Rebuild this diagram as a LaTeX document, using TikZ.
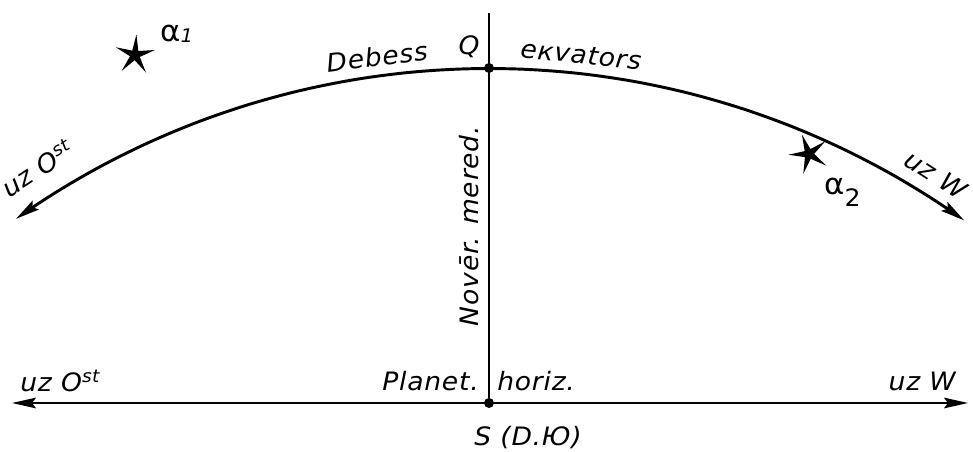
\documentclass[tikz,border=0pt]{standalone}
\usepackage{fontspec}
\setmainfont{DejaVu Sans}[ItalicFont={DejaVu Sans Oblique},FakeStretch=1.05,LetterSpace=3]
\usetikzlibrary{arrows.meta,shapes.geometric}
\tikzset{
  lbl/.style={font=\fontsize{19}{21}\selectfont\itshape, inner sep=0pt},
  alab/.style={inner sep=0pt},
  arcline/.style={line width=2.2pt},
  axisline/.style={line width=1.5pt},
  tipboth/.style={{Stealth[length=18pt,width=8pt,inset=3pt]}-{Stealth[length=18pt,width=8pt,inset=3pt]}},
  dotmark/.style={circle, fill=black, inner sep=0pt, minimum size=7.5pt},
  starmark/.style={star, star points=5, star point ratio=4, fill=black, inner sep=0pt, minimum size=31pt}
}
\begin{document}
\begin{tikzpicture}[x=0.75pt,y=-0.75pt]
\useasboundingbox (0,0) rectangle (973,452);
% key points
\coordinate (Vtop) at (489,13);
\coordinate (HL) at (12,403);
\coordinate (HR) at (968,403);
% arc (celestial equator)
\draw[arcline,tipboth] plot[domain=125.26:54.56, samples=90, smooth] ({489+819.5*cos(\x)},{888-819.5*sin(\x)});
% meridian and horizon
\node[dotmark] (Q) at (489,68) {};
\node[dotmark] (S) at (489,403) {};
\draw[axisline] (Vtop) -- (S);
\draw[axisline,tipboth] (HL) -- (HR);
% stars
\node[starmark, rotate=-4] (st1) at (135,55) {};
\node[starmark, rotate=20] (st2) at (809,154) {};
\node[alab, anchor=west] (a1) at (160,34) {\fontsize{22}{22}\selectfont α\raisebox{-1pt}{\fontsize{14}{14}\selectfont\itshape 1}};
\node[alab, anchor=west] (a2) at (824,192) {\fontsize{22}{22}\selectfont α\raisebox{-9pt}{\fontsize{18}{18}\selectfont 2}};
% labels on the arc
\node[lbl, rotate=7] (deb) at (377,57) {Debess};
\node[lbl] (qlab) at (469,47) {Q};
\node[lbl, rotate=-6] (ekv) at (581,55) {eкvators};
\node[lbl, rotate=33] (ost1) at (37,168) {uz O\textsuperscript{st}};
\node[lbl, rotate=-33] (w1) at (936,175) {uz W};
% meridian label
\node[lbl, rotate=90] (mer) at (469,226) {Novēr. mered.};
% horizon labels
\node[lbl, anchor=west] (ost2) at (20,381) {uz O\textsuperscript{st}};
\node[lbl, anchor=east] (plan) at (479,381) {Planet.};
\node[lbl, anchor=west] (hor) at (497,381) {horiz.};
\node[lbl, anchor=east] (w2) at (956,381) {uz W};
\node[lbl, anchor=west] (slab) at (474,438) {S (D.Ю)};
\end{tikzpicture}
\end{document}
